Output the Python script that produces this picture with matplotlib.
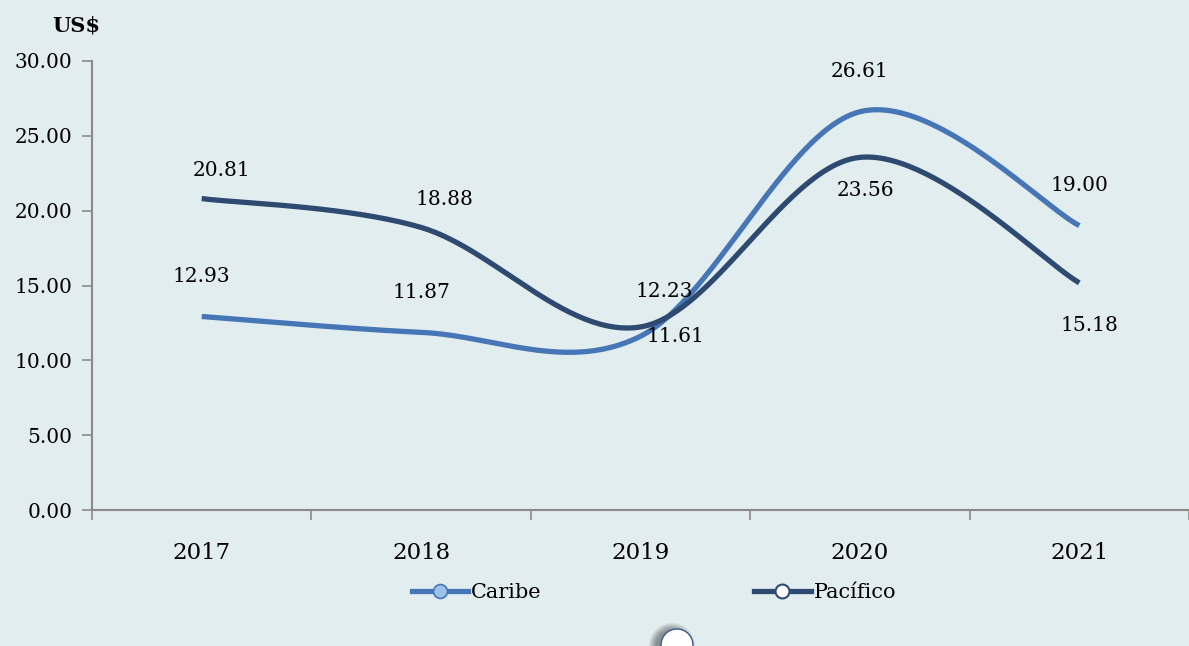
import numpy as np
import matplotlib
matplotlib.use("Agg")
import matplotlib.pyplot as plt
from matplotlib.lines import Line2D
from matplotlib.patches import Circle

years = ["2017", "2018", "2019", "2020", "2021"]
caribe = [12.93, 11.87, 11.61, 26.61, 19.00]
pacifico = [20.81, 18.88, 12.23, 23.56, 15.18]

# label offsets in pixels (dx, dy) for each point
caribe_offsets = [(0, 40), (0, 40), (35, 0), (0, 40), (0, 40)]
pacifico_offsets = [(20, 28), (23, 28), (24, 35), (6, -33), (10, -43)]

BG = "#e2edf0"
C_CARIBE = "#4676b5"
C_PACIFICO = "#2e4a70"
AXIS_GRAY = "#8a8a8a"
FONT = "DejaVu Serif"


def smooth(xs, ys, n=60):
    """Catmull-Rom style cubic Bezier through the points."""
    pts = np.column_stack([xs, ys]).astype(float)
    out = []
    for i in range(len(pts) - 1):
        p0 = pts[max(i - 1, 0)]
        p1 = pts[i]
        p2 = pts[i + 1]
        p3 = pts[min(i + 2, len(pts) - 1)]
        c1 = p1 + (p2 - p0) / 6.0
        c2 = p2 - (p3 - p1) / 6.0
        t = np.linspace(0, 1, n)[:, None]
        seg = ((1 - t) ** 3) * p1 + 3 * ((1 - t) ** 2) * t * c1 \
            + 3 * (1 - t) * t ** 2 * c2 + t ** 3 * p2
        out.append(seg if i == 0 else seg[1:])
    curve = np.vstack(out)
    return curve[:, 0], curve[:, 1]


fig = plt.figure(figsize=(11.89, 6.46), dpi=100, facecolor=BG)
ax = fig.add_axes([92 / 1189, 136 / 646, 1097 / 1189, 449 / 646], facecolor=BG)

x = np.arange(len(years))
for vals, color, offs in [(caribe, C_CARIBE, caribe_offsets),
                          (pacifico, C_PACIFICO, pacifico_offsets)]:
    sx, sy = smooth(x, vals)
    ax.plot(sx, sy, color=color, lw=3.8, solid_capstyle="butt", zorder=3)
    for xi, v, (dx, dy) in zip(x, vals, offs):
        ax.annotate(f"{v:.2f}", (xi, v), xytext=(dx, dy), textcoords="offset pixels",
                    ha="center", va="center", fontsize=14.5, family=FONT, color="black")

ax.set_xlim(-0.5, -0.5 + 1097 / 221)
ax.set_ylim(0, 30)
ax.set_yticks(np.arange(0, 31, 5))
ax.set_yticklabels([f"{v:.2f}" for v in np.arange(0, 31, 5)], family=FONT, fontsize=14.5)
ax.set_xticks(x)
ax.set_xticklabels(years, family=FONT, fontsize=16.5)
ax.set_xticks(np.arange(-0.5, 4.6, 1), minor=True)
ax.tick_params(axis="x", which="major", length=0, pad=23)
ax.tick_params(axis="x", which="minor", length=7, color=AXIS_GRAY, width=1.2, direction="out")
ax.tick_params(axis="y", length=7, color=AXIS_GRAY, width=1.2, pad=7)

for side in ["top", "right"]:
    ax.spines[side].set_visible(False)
for side in ["left", "bottom"]:
    ax.spines[side].set_color(AXIS_GRAY)
    ax.spines[side].set_linewidth(1.5)

fig.text(76 / 1189, 1 - 25 / 646, "US$", ha="center", va="center",
         fontsize=15, fontweight="bold", family=FONT)

handles = [
    Line2D([], [], color=C_CARIBE, lw=3.8, marker="o", markersize=10,
           markerfacecolor="#9cc2e5", markeredgecolor=C_CARIBE, markeredgewidth=1.2),
    Line2D([], [], color=C_PACIFICO, lw=3.8, marker="o", markersize=10,
           markerfacecolor="white", markeredgecolor=C_PACIFICO, markeredgewidth=1.5),
]
fig.legend(handles, ["Caribe", "Pacífico"], loc="center",
           bbox_to_anchor=(654 / 1189, 1 - 593 / 646), ncol=2, frameon=False,
           prop={"family": FONT, "size": 15}, handlelength=2.7, handletextpad=0.15,
           columnspacing=10.2)

# round button at the bottom edge with a soft shadow (display coords, origin bottom-left)
cx, cy, r = 677, 1, 16
for k in range(8):
    fig.patches.append(Circle((cx - 5, cy - 1), r + 7 - k, transform=None,
                              facecolor="black", edgecolor="none", alpha=0.06,
                              zorder=5))
fig.patches.append(Circle((cx, cy), r, transform=None, facecolor="white",
                          edgecolor="#3a5a8c", linewidth=1.0, zorder=6))

fig.savefig("out.png", dpi=100, facecolor=BG)
